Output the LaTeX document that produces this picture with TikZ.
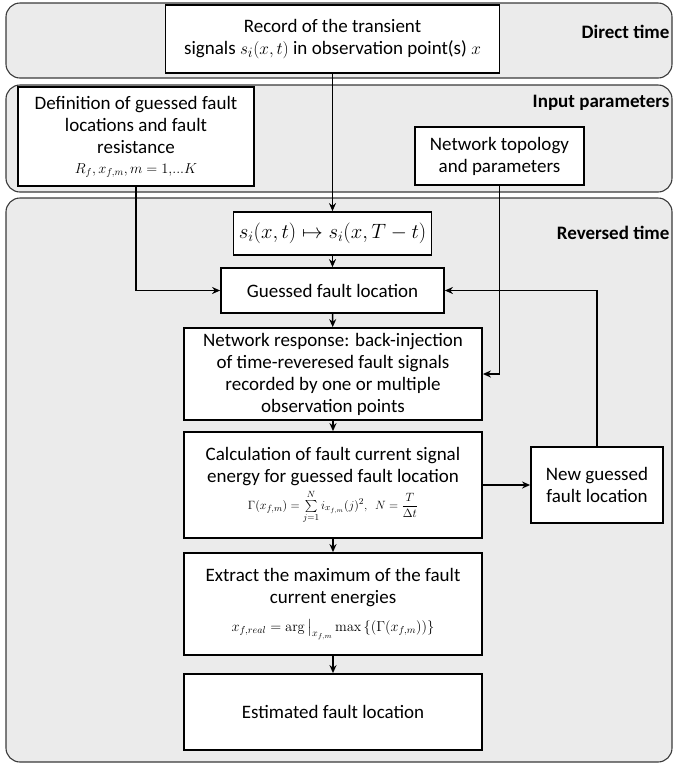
\documentclass[tikz,border=0pt]{standalone}
\usepackage{amsmath}
\usepackage[no-math]{fontspec}
\setmainfont{Carlito}
\usetikzlibrary{positioning,arrows.meta}
\definecolor{rtPanel}{HTML}{EBEBEB}
\definecolor{rtEdge}{HTML}{3A3A3A}

\begin{document}
\begin{tikzpicture}[
  x=1pt, y=-1pt,
  font=\fontsize{19}{22}\selectfont,
  panel/.style={draw=rtEdge, line width=1.1pt, fill=rtPanel, rounded corners=14pt, inner sep=0pt},
  blok/.style={draw, line width=1.8pt, fill=white, align=center, inner sep=0pt},
  tag/.style={font=\fontsize{19}{22}\selectfont\bfseries, anchor=east},
  flow/.style={-{Stealth[length=8pt,width=7pt]}, line width=1.4pt},
]
\useasboundingbox (0,0) rectangle (674,764);

% ---- Zonas ----
\node[panel, minimum width=666pt, minimum height=75pt]  (pdirect) at (339,40.5) {};
\node[panel, minimum width=666pt, minimum height=107pt] (pinput)  at (339,138.5) {};
\node[panel, minimum width=666pt, minimum height=564pt] (prev)    at (339,480) {};

\node[tag] (tdirect) at (673,32)  {Direct time};
\node[tag] (tinput)  at (673,103) {Input parameters};
\node[tag] (trev)    at (673,233) {Reversed time};

% ---- Entradas ----
\node[blok, minimum width=334pt, minimum height=68pt] (record) at (332.5,39)
     {Record of the transient\\signals $s_i(x,t)$ in observation point(s) $x$};
\node[blok, minimum width=236pt, minimum height=99pt] (define) at (136,136.5)
     {Definition of guessed fault\\locations and fault\\resistance\\[-2pt]
      {\fontsize{14}{17}\selectfont $R_f, x_{f,m}, m=1,\!...K$}};
\node[blok, minimum width=169pt, minimum height=58pt] (topo) at (499.5,156)
     {Network topology\\and parameters};

% ---- Tiempo invertido ----
\node[blok, minimum width=198pt, minimum height=43pt, font=\fontsize{20}{24}\selectfont] (mapping) at (332.5,233.5)
     {$s_i(x,t)\mapsto s_i(x,T-t)$};
\node[blok, minimum width=223pt, minimum height=45pt] (guess) at (332.5,290.5)
     {Guessed fault location};
\node[blok, minimum width=298pt, minimum height=92pt] (response) at (333,374)
     {Network response: back-injection\\of time-reveresed fault signals\\recorded by one or multiple\\observation points};
\node[blok, minimum width=298pt, minimum height=106pt] (calc) at (333,485)
     {Calculation of fault current signal\\energy for guessed fault location\\[4pt]
      {\fontsize{13}{16}\selectfont $\Gamma(x_{f,m})=\sum\limits_{j=1}^{N} i_{x_{f,m}}(j)^2,\ \ N=\dfrac{T}{\Delta t}$}};
\node[blok, minimum width=132pt, minimum height=76pt] (newguess) at (597,485)
     {New guessed\\fault location};
\node[blok, minimum width=298pt, minimum height=102pt] (extract) at (333,604)
     {Extract the maximum of the fault\\current energies\\[6pt]
      {\fontsize{14}{17}\selectfont $x_{f,real}=\arg\big|_{x_{f,m}}\max\,\{(\Gamma(x_{f,m}))\}$}};
\node[blok, minimum width=298pt, minimum height=76pt] (estim) at (333,712)
     {Estimated fault location};

% ---- Flechas ----
\draw[flow] (record.south) -- (mapping.north);
\draw[flow] (mapping) -- (guess);
\draw[flow] (guess) -- (response);
\draw[flow] (response) -- (calc);
\draw[flow] (calc) -- (extract);
\draw[flow] (extract) -- (estim);
\draw[flow] (define.south) |- (guess.west);
\draw[flow] (topo.south) |- (response.east);
\draw[flow] (calc) -- (newguess);
\draw[flow] (newguess.north) |- (guess.east);

\end{tikzpicture}
\end{document}
